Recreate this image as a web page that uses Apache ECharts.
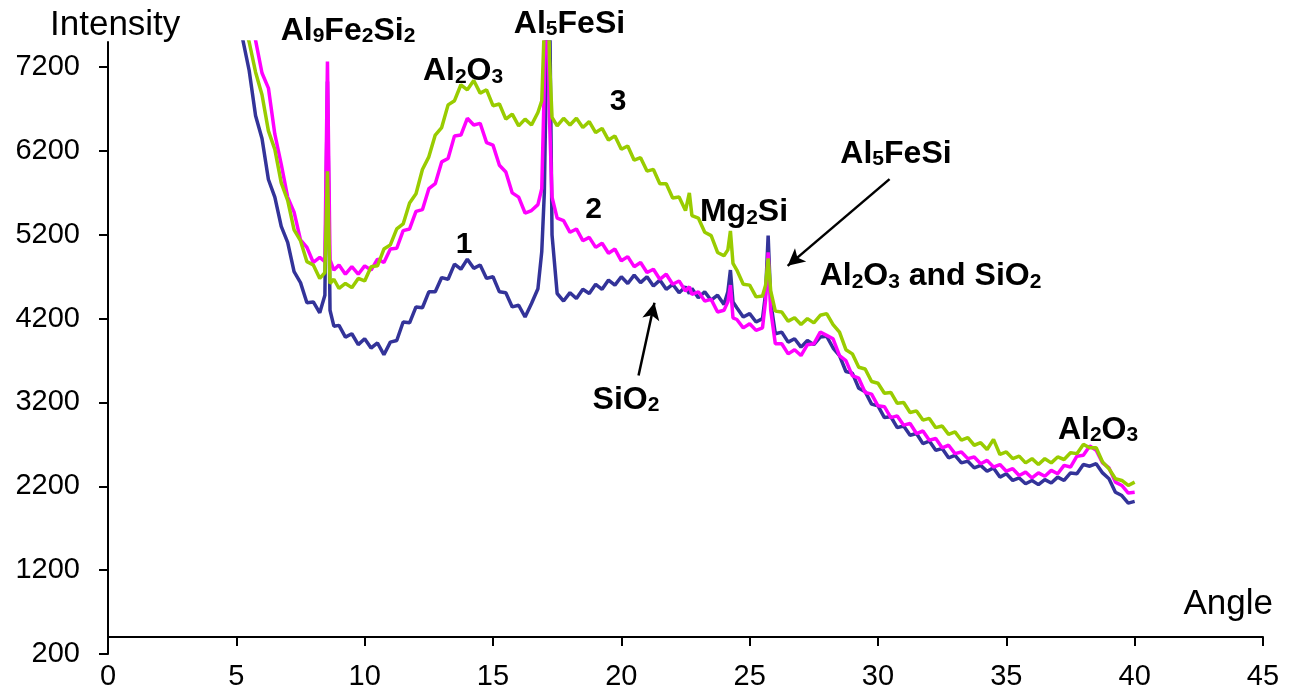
<!DOCTYPE html>
<html>
<head>
<meta charset="utf-8">
<script src="https://cdn.jsdelivr.net/npm/echarts@6/dist/echarts.min.js"></script>
<style>
html,body{margin:0;padding:0;background:#fff;}
#chart{width:1292px;height:691px;}
</style>
</head>
<body>
<div id="chart"></div>
<script>
// ---- data ----
const angles = [
  5, 5.25, 5.5, 5.75, 6, 6.25, 6.5, 6.75, 7, 7.25,
  7.5, 7.75, 8, 8.25, 8.45, 8.55, 8.65, 8.8, 9, 9.25,
  9.5, 9.75, 10, 10.25, 10.5, 10.75, 11, 11.25, 11.5, 11.75,
  12, 12.25, 12.5, 12.75, 13, 13.25, 13.5, 13.75, 14, 14.25,
  14.5, 14.75, 15, 15.25, 15.5, 15.75, 16, 16.25, 16.5, 16.75,
  16.9, 17.0, 17.1, 17.2, 17.3, 17.5, 17.75, 18, 18.25, 18.5,
  18.75, 19, 19.25, 19.5, 19.75, 20, 20.25, 20.5, 20.75, 21,
  21.25, 21.5, 21.75, 22, 22.25, 22.5, 22.65, 22.75, 23, 23.25,
  23.5, 23.75, 24, 24.15, 24.25, 24.35, 24.5, 24.75, 25, 25.25,
  25.5, 25.62, 25.72, 25.82, 26, 26.25, 26.5, 26.75, 27, 27.25,
  27.5, 27.75, 28, 28.25, 28.5, 28.75, 29, 29.25, 29.5, 29.75,
  30, 30.25, 30.5, 30.75, 31, 31.25, 31.5, 31.75, 32, 32.25,
  32.5, 32.75, 33, 33.25, 33.5, 33.75, 34, 34.25, 34.5, 34.75,
  35, 35.25, 35.5, 35.75, 36, 36.25, 36.5, 36.75, 37, 37.25,
  37.5, 37.75, 38, 38.25, 38.5, 38.75, 39, 39.25, 39.5, 39.75, 40
];

// curve 1 (navy)
const intensity1 = [
  8050, 7530, 7160, 6620, 6350, 5860, 5650, 5300, 5110, 4760,
  4630, 4390, 4400, 4270, 4480, 7030, 4300, 4110, 4120, 3980,
  4020, 3890, 3960, 3850, 3910, 3770, 3920, 3940, 4160, 4150,
  4340, 4330, 4520, 4520, 4690, 4670, 4850, 4790, 4910, 4800,
  4840, 4680, 4700, 4520, 4510, 4340, 4360, 4220, 4380, 4556,
  5000, 5700, 7600, 8200, 5200, 4500, 4410, 4510, 4440, 4550,
  4500, 4610, 4550, 4660, 4600, 4700, 4620, 4720, 4630, 4700,
  4590, 4660, 4550, 4610, 4510, 4580, 4500, 4560, 4450, 4520,
  4420, 4480, 4370, 4520, 4780, 4400, 4330, 4220, 4260, 4160,
  4200, 4500, 5190, 4400, 4020, 4040, 3920, 3960, 3860, 3940,
  3890, 3980, 3990, 3850, 3760, 3570, 3550, 3370, 3330, 3180,
  3160, 3020, 3030, 2900, 2920, 2810, 2830, 2710, 2740, 2630,
  2650, 2540, 2570, 2480, 2500, 2420, 2450, 2380, 2420, 2310,
  2350, 2270, 2300, 2230, 2270, 2220, 2280, 2240, 2310, 2270,
  2360, 2350, 2460, 2440, 2470, 2360, 2290, 2130, 2090, 2000, 2020
];

// curve 2 (magenta)
const intensity2 = [
  8400, 7900, 7800, 7520, 7130, 6950, 6400, 6040, 5650, 5470,
  5140, 5050, 4870, 4930, 4880, 7267, 4900, 4780, 4840, 4730,
  4820, 4730, 4830, 4780, 4910, 4870, 5030, 5040, 5250, 5270,
  5480, 5500, 5750, 5810, 6070, 6110, 6380, 6390, 6590, 6510,
  6530, 6300, 6270, 6030, 5950, 5700, 5650, 5460, 5490, 5560,
  5750, 7000, 8500, 6600, 5650, 5400, 5370, 5230, 5270, 5130,
  5170, 5050, 5100, 4980, 5030, 4890, 4940, 4820, 4870, 4750,
  4790, 4670, 4730, 4610, 4650, 4530, 4580, 4490, 4520, 4410,
  4430, 4280, 4300, 4400, 4600, 4210, 4190, 4090, 4140, 4060,
  4090, 4420, 4990, 4300, 3900, 3900, 3780, 3830, 3760, 3890,
  3900, 4040, 4000, 3960, 3760, 3700, 3520, 3490, 3320, 3300,
  3160, 3150, 3020, 3040, 2930, 2950, 2830, 2860, 2750, 2770,
  2660, 2690, 2590, 2610, 2530, 2550, 2470, 2510, 2430, 2460,
  2380, 2410, 2330, 2370, 2300, 2360, 2320, 2390, 2350, 2450,
  2430, 2560, 2570, 2680, 2630, 2480, 2420, 2250, 2210, 2120, 2130
];

// curve 3 (yellow-green)
const intensity3 = [
  8200, 7760, 7500, 7140, 6870, 6440, 6220, 5820, 5610, 5260,
  5130, 4880, 4840, 4680, 4750, 5959, 4620, 4670, 4560, 4620,
  4570, 4680, 4650, 4820, 4830, 5030, 5080, 5270, 5330, 5580,
  5690, 5980, 6130, 6390, 6480, 6750, 6800, 6990, 6930, 7040,
  6890, 6930, 6740, 6760, 6580, 6640, 6500, 6580, 6510, 6660,
  6800, 7700, 8800, 7300, 6600, 6500, 6590, 6510, 6590, 6480,
  6550, 6420, 6470, 6330, 6380, 6220, 6260, 6090, 6120, 5960,
  5980, 5810, 5810, 5640, 5650, 5490, 5700, 5430, 5400, 5230,
  5190, 4990, 4950, 5020, 5246, 4860, 4780, 4610, 4600, 4460,
  4470, 4600, 4920, 4530, 4290, 4280, 4170, 4210, 4130, 4200,
  4150, 4240, 4260, 4130, 4040, 3830, 3780, 3620, 3600, 3450,
  3430, 3310, 3320, 3190, 3200, 3080, 3100, 2990, 3010, 2900,
  2920, 2820, 2850, 2750, 2780, 2690, 2720, 2640, 2760, 2580,
  2610, 2530, 2560, 2480, 2530, 2460, 2530, 2480, 2550, 2520,
  2600, 2590, 2700, 2660, 2660, 2490, 2410, 2290, 2270, 2210, 2250
];

const yTickValues = [200, 1200, 2200, 3200, 4200, 5200, 6200, 7200];
const xTickValues = [0, 5, 10, 15, 20, 25, 30, 35, 40, 45];
const seriesNames = ['1', '2', '3'];

// ---- chart ----
const FONT = "'Liberation Sans', Arial, sans-serif";
const chart = echarts.init(document.getElementById('chart'), null, {renderer: 'canvas'});

function pairs(vals) { return angles.map((a, i) => [a, vals[i]]); }

const main = {fontSize: 32, fontWeight: 'bold', fontFamily: FONT, fill: '#000', lineHeight: 32, verticalAlign: 'bottom'};
const sub = {fontSize: 21, fontWeight: 'bold', fontFamily: FONT, fill: '#000', lineHeight: 24, verticalAlign: 'bottom'};
function label(text, x, y, size) {
  return {
    type: 'text', x: x, y: y, silent: true, z: 100,
    style: {
      text: text, align: 'center', verticalAlign: 'middle',
      fontFamily: FONT, fontWeight: 'bold', fontSize: size || 32, fill: '#000',
      rich: {m: main, s: sub}
    }
  };
}

const option = {
  animation: false,
  backgroundColor: '#fff',
  grid: {left: 108, right: 29, top: 42, bottom: 36.7, containLabel: false},
  xAxis: {
    type: 'value', min: 0, max: 45, interval: 5, offset: -17,
    axisLine: {show: true, onZero: false, lineStyle: {color: '#000', width: 2}},
    axisTick: {show: true, inside: false, length: 9, lineStyle: {color: '#000', width: 2}, customValues: xTickValues},
    axisLabel: {show: true, margin: 25, fontSize: 29, color: '#000', fontFamily: FONT, customValues: xTickValues,
      formatter: function (v) { return String(v); }},
    splitLine: {show: false}
  },
  yAxis: {
    type: 'value', min: 200, max: 7500, interval: 1000,
    axisLine: {show: true, lineStyle: {color: '#000', width: 2}},
    axisTick: {show: true, inside: false, length: 9, lineStyle: {color: '#000', width: 2}, customValues: yTickValues},
    axisLabel: {show: true, margin: 28, fontSize: 29, color: '#000', fontFamily: FONT, customValues: yTickValues,
      formatter: function (v) { return String(v); }},
    splitLine: {show: false}
  },
  series: [
    {
      name: seriesNames[0], type: 'line', data: pairs(intensity1), showSymbol: false, clip: true,
      lineStyle: {color: '#333399', width: 3.5}, itemStyle: {color: '#333399'}, z: 2,
      markLine: {
        silent: true, animation: false,
        symbol: ['none', 'arrow'], symbolSize: [13, 17],
        label: {show: false},
        lineStyle: {color: '#000', width: 2.5, type: 'solid'},
        data: [
          [{coord: [30.45, 5864]}, {coord: [26.48, 4830]}],
          [{coord: [20.67, 3521]}, {coord: [21.29, 4390]}]
        ]
      }
    },
    {
      name: seriesNames[1], type: 'line', data: pairs(intensity2), showSymbol: false, clip: true,
      lineStyle: {color: '#FF00FF', width: 3.5}, itemStyle: {color: '#FF00FF'}, z: 3
    },
    {
      name: seriesNames[2], type: 'line', data: pairs(intensity3), showSymbol: false, clip: true,
      lineStyle: {color: '#99CC00', width: 3.5}, itemStyle: {color: '#99CC00'}, z: 4
    }
  ],
  graphic: [
    {type: 'text', x: 50, y: 25.5, silent: true,
      style: {text: 'Intensity', align: 'left', verticalAlign: 'middle', fontFamily: FONT, fontSize: 35, fill: '#000'}},
    {type: 'text', x: 1273, y: 604.5, silent: true,
      style: {text: 'Angle', align: 'right', verticalAlign: 'middle', fontFamily: FONT, fontSize: 35, fill: '#000'}},
    label('{m|Al}{s|9}{m|Fe}{s|2}{m|Si}{s|2}', 348, 31),
    label('{m|Al}{s|5}{m|FeSi}', 569.5, 24),
    label('{m|Al}{s|2}{m|O}{s|3}', 463, 71.5),
    label('{m|Mg}{s|2}{m|Si}', 744, 212.5),
    label('{m|Al}{s|5}{m|FeSi}', 896, 154),
    label('{m|Al}{s|2}{m|O}{s|3}{m| and SiO}{s|2}', 930.5, 276.5),
    label('{m|Al}{s|2}{m|O}{s|3}', 1098, 430),
    label('{m|SiO}{s|2}', 626, 400),
    {type: 'text', x: 618, y: 102, silent: true, z: 100,
      style: {text: '3', align: 'center', verticalAlign: 'middle', fontFamily: FONT, fontWeight: 'bold', fontSize: 30, fill: '#000'}},
    {type: 'text', x: 593.5, y: 210, silent: true, z: 100,
      style: {text: '2', align: 'center', verticalAlign: 'middle', fontFamily: FONT, fontWeight: 'bold', fontSize: 30, fill: '#000'}},
    {type: 'text', x: 464, y: 245, silent: true, z: 100,
      style: {text: '1', align: 'center', verticalAlign: 'middle', fontFamily: FONT, fontWeight: 'bold', fontSize: 30, fill: '#000'}}
  ]
};
chart.setOption(option);
</script>
</body>
</html>
